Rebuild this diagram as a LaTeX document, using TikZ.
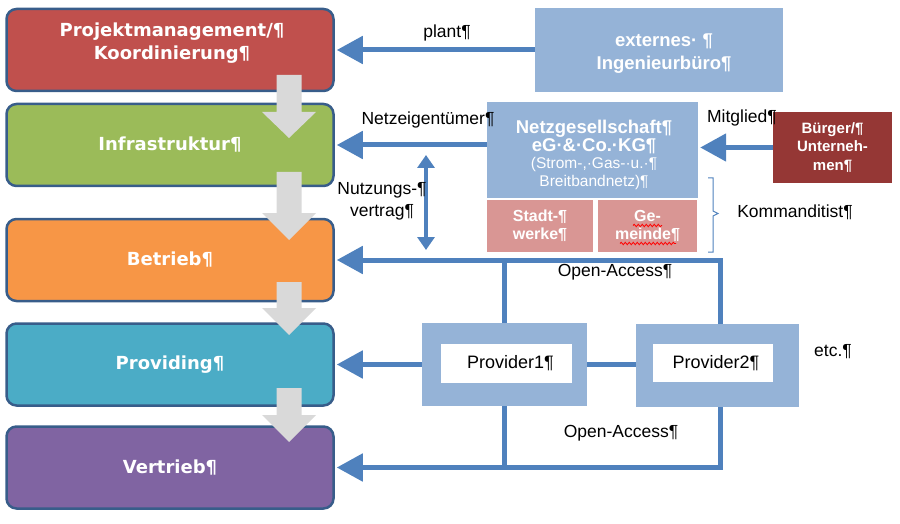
\documentclass[tikz,border=0pt]{standalone}
\usepackage{fontspec}
\setmainfont{Liberation Sans}
\newfontfamily\vfont{DejaVu Sans}
\usetikzlibrary{arrows.meta,calc,decorations.pathmorphing}

\definecolor{bdr}{HTML}{385D8A}
\definecolor{cred}{HTML}{C0504D}
\definecolor{cgreen}{HTML}{9BBB59}
\definecolor{corange}{HTML}{F79646}
\definecolor{cteal}{HTML}{4BACC6}
\definecolor{cpurple}{HTML}{8064A2}
\definecolor{lb}{HTML}{95B3D7}
\definecolor{ab}{HTML}{4F81BD}
\definecolor{cpink}{HTML}{D99694}
\definecolor{dred}{HTML}{953735}
\definecolor{gr}{HTML}{D9D9D9}

\tikzset{
  lbox/.style={draw=bdr, line width=2.5pt, rounded corners=10pt,
    minimum width=327pt, minimum height=82pt, inner sep=0pt,
    text=white, align=center, font=\vfont\bfseries\fontsize{18}{23}\selectfont},
  ltext/.style={text=white, align=center, inner sep=0pt,
    font=\vfont\bfseries\fontsize{18}{23}\selectfont},
  rbox/.style={fill=lb, inner sep=0pt},
  rtext/.style={inner sep=0pt, text=white, align=center,
    font=\bfseries\fontsize{18.5}{23}\selectfont},
  kbox/.style={fill=cpink, inner sep=0pt, text=white, align=center,
    minimum height=52pt, font=\bfseries\fontsize{16}{18}\selectfont},
  pbox/.style={fill=lb, inner sep=0pt},
  pin/.style={fill=white, inner sep=0pt, font=\fontsize{18}{21}\selectfont},
  lab/.style={inner sep=0pt, font=\fontsize{17.5}{22}\selectfont},
  bline/.style={draw=ab, line width=5pt},
  barr/.style={draw=ab, line width=5pt, -{Triangle[length=26pt,width=27pt]}, shorten >=2pt},
  darr/.style={draw=ab, line width=3.5pt, {Triangle[length=13pt,width=17pt]}-{Triangle[length=13pt,width=17pt]}},
  garrow/.style={fill=gr},
  wavy/.style={draw=red, line width=0.8pt, decorate, decoration={snake, amplitude=1.2pt, segment length=4pt}}
}

\begin{document}
\begin{tikzpicture}[x=1pt,y=-1pt]
\useasboundingbox (0,0) rectangle (900,524);

% left column boxes
\node[lbox, fill=cred] (pm) at (170,50) {};
\node[ltext] (pmt) at (172,43.5) {Projektmanagement/¶\\Koordinierung¶};
\node[lbox, fill=cgreen] (infra) at (170,145) {Infrastruktur¶};
\node[lbox, fill=corange] (betrieb) at (170,260) {Betrieb¶};
\node[lbox, fill=cteal] (prov) at (170,364.5) {Providing¶};
\node[lbox, fill=cpurple] (vertrieb) at (170,467.5) {Vertrieb¶};

% gray block arrows
\newcommand\garr[3]{\fill[garrow] (276.5,#1) -- (301.5,#1) -- (301.5,#2) -- (316,#2) -- (289,#3) -- (262,#2) -- (276.5,#2) -- cycle;}
\garr{75}{112}{138}
\garr{172}{213}{240}
\garr{282}{308}{335}
\garr{388}{415}{442}

% right side boxes
\node[rbox, minimum width=248pt, minimum height=84pt] (ext) at (659,50) {};
\node[rtext] (extt) at (664,53.5) {externes· ¶\\Ingenieurbüro¶};
\node[rbox, minimum width=211pt, minimum height=96pt] (netz) at (592.5,150) {};
\node[rtext, font=\bfseries\fontsize{18.5}{19}\selectfont] (netzt) at (594,155)
  {\bfseries\fontsize{18.5}{19}\selectfont Netzgesellschaft¶\\[-1.5pt]
   \bfseries\fontsize{18.5}{19}\selectfont eG·\&·Co.·KG¶\\[-1.5pt]
   \mdseries\fontsize{15.5}{19}\selectfont (Strom-,·Gas-·u.·¶\\[-1.5pt]
   \mdseries\fontsize{15.5}{18.5}\selectfont Breitbandnetz)¶};
\node[kbox, minimum width=106pt] (stadt) at (540,226) {Stadt-¶\\werke¶};
\node[kbox, minimum width=99pt] (gem) at (647.5,226) {Ge-\\meinde¶};
\node[fill=dred, inner sep=0pt, minimum width=119pt, minimum height=71pt, text=white, align=center,
  font=\bfseries\fontsize{15}{18.5}\selectfont] (buerger) at (832.5,147.5) {Bürger/¶\\Unterneh-\\men¶};

% spell-check underlines
\draw[wavy] (633,225.5) -- (662,225.5);
\draw[wavy] (620,243.5) -- (676,243.5);

% brace
\draw[ab, line width=1pt] (708,178) -- (713,178) -- (713,211) -- (718,213.5) -- (713,216) -- (713,252) -- (708,252);

% providers
\node[pbox, minimum width=165pt, minimum height=83pt] (p1) at (504.5,364.5) {};
\node[pin, minimum width=131pt, minimum height=39pt] (p1i) at (506.5,363.5) {\hspace*{8pt}Provider1¶};
\node[pbox, minimum width=163pt, minimum height=83pt] (p2) at (717.5,365.5) {};
\node[pin, minimum width=120pt, minimum height=38pt] (p2i) at (713,363) {\hspace*{6pt}Provider2¶};

% connectors
\draw[barr] (ext.west) -- (pm.east);
\draw[barr] (netz.west |- infra.east) -- (infra.east);
\draw[barr] (buerger.west) -- (buerger.west -| netz.east);
\coordinate (nu1) at (426,155);
\coordinate (nu2) at (426,250);
\draw[darr] (nu1) -- (nu2);

\coordinate (p2t) at ([xshift=2.5pt]p2.north);
\coordinate (p2b) at ([xshift=2.5pt]p2.south);
\draw[bline] (p1.north) -- (p1.north |- betrieb.east);
\draw[bline] (p2t) -- (p2t |- betrieb.east);
\draw[barr] ([xshift=2.5pt]p2t |- betrieb.east) -- (betrieb.east);
\draw[bline] (p1.south) -- (p1.south |- vertrieb.east);
\draw[bline] (p2b) -- (p2b |- vertrieb.east);
\draw[barr] ([xshift=2.5pt]p2b |- vertrieb.east) -- (vertrieb.east);
\draw[barr] (p1.west) -- (prov.east);
\draw[draw=ab, line width=4.5pt] (p1.east) -- (p1.east -| p2.west);

% labels
\node[lab] (plant) at (447,33) {plant¶};
\node[lab] (neig) at (428,120) {Netzeigentümer¶};
\node[lab] (mitg) at (742,118) {Mitglied¶};
\node[lab, align=center] (nutz) at (382,201) {Nutzungs-¶\\vertrag¶};
\node[lab] (komm) at (795,212) {Kommanditist¶};
\node[lab] (oa1) at (615,272) {Open-Access¶};
\node[lab] (oa2) at (621,433) {Open-Access¶};
\node[lab] (etc) at (833,352) {etc.¶};
\end{tikzpicture}
\end{document}
